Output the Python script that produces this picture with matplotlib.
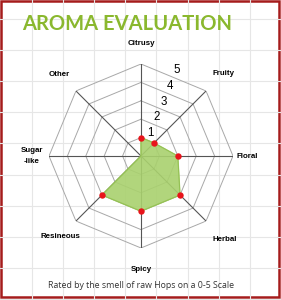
import numpy as np
import matplotlib
matplotlib.use("Agg")
import matplotlib.pyplot as plt
from matplotlib.patches import Rectangle

# ---- data ----
categories = ["Citrusy", "Fruity", "Floral", "Herbal", "Spicy", "Resineous", "Sugar\n-like", "Other"]
values = [1, 1, 2, 3, 3, 3, 0, 0]
levels = [1, 2, 3, 4, 5]
level_labels = ["1", "2", "3", "4", "5"]
title = "AROMA EVALUATION"
footer = "Rated by the smell of raw Hops on a 0-5 Scale"

W, H = 281, 300
fig = plt.figure(figsize=(W / 100, H / 100), dpi=100)
fig.patch.set_facecolor("white")

# background sheet grid + border
bg = fig.add_axes([0, 0, 1, 1], zorder=-5)
bg.set_xlim(0, W)
bg.set_ylim(H, 0)
bg.axis("off")
for x in np.arange(32, W, 31.1):
    bg.axvline(x, color="#e6e6e6", lw=0.8)
for y in np.arange(18.5, H, 31.2):
    bg.axhline(y, color="#e6e6e6", lw=0.8)
bg.add_patch(Rectangle((1, 1), W - 3.2, H - 3.8, fill=False, ec="#a51c1c", lw=1.8))

bg.text(127.5, 24.5, title, ha="center", va="center", color="#8ab82e",
        fontsize=14.5, fontfamily="Lato", fontweight="bold")
bg.text(141, 285, footer, ha="center", va="center", color="#333333",
        fontsize=6.3, fontfamily="Open Sans")

# radar
cx, cy, R = 141, 156, 92
ax = fig.add_axes([(cx - R) / W, (H - cy - R) / H, 2 * R / W, 2 * R / H], projection="polar")
ax.set_theta_offset(np.pi / 2)
ax.set_theta_direction(-1)
ax.set_ylim(0, 5)
ax.axis("off")
ax.patch.set_alpha(0)

n = len(categories)
theta = np.arange(n) * 2 * np.pi / n
theta_c = np.append(theta, theta[0])

for lv in levels:
    ax.plot(theta_c, [lv] * (n + 1), color="#a8a8a8", lw=0.7, zorder=1)
for t in theta:
    ax.plot([t, t], [0, 5], color="#555555", lw=0.8, zorder=2)

vals_c = np.append(values, values[0])
ax.fill(theta_c, vals_c, color="#a9d16e", alpha=0.9, zorder=3)
ax.plot(theta_c, vals_c, color="#93c052", lw=0.7, zorder=4)
nz = [i for i, v in enumerate(values) if v > 0]
ax.plot(theta[nz], np.array(values)[nz], "o", color="#e8141b", ms=4.6, mec="none", zorder=5)

# level labels between first two spokes
for lv, lab in zip(levels, level_labels):
    ax.text(np.pi / 8, lv * np.cos(np.pi / 8) + 0.42, lab, ha="center", va="center",
            fontsize=8.3, fontfamily="Liberation Sans", color="black", clip_on=False)

label_r = [6.1, 6.35, 5.75, 6.4, 6.15, 6.2, 5.95, 6.3]
for t, lab, r in zip(theta, categories, label_r):
    ax.text(t, r, lab, ha="center", va="center", fontsize=5.7, fontweight="bold",
            fontfamily="Liberation Sans", color="black", clip_on=False, linespacing=1.9)

fig.savefig("out.png", dpi=100, facecolor="white")
